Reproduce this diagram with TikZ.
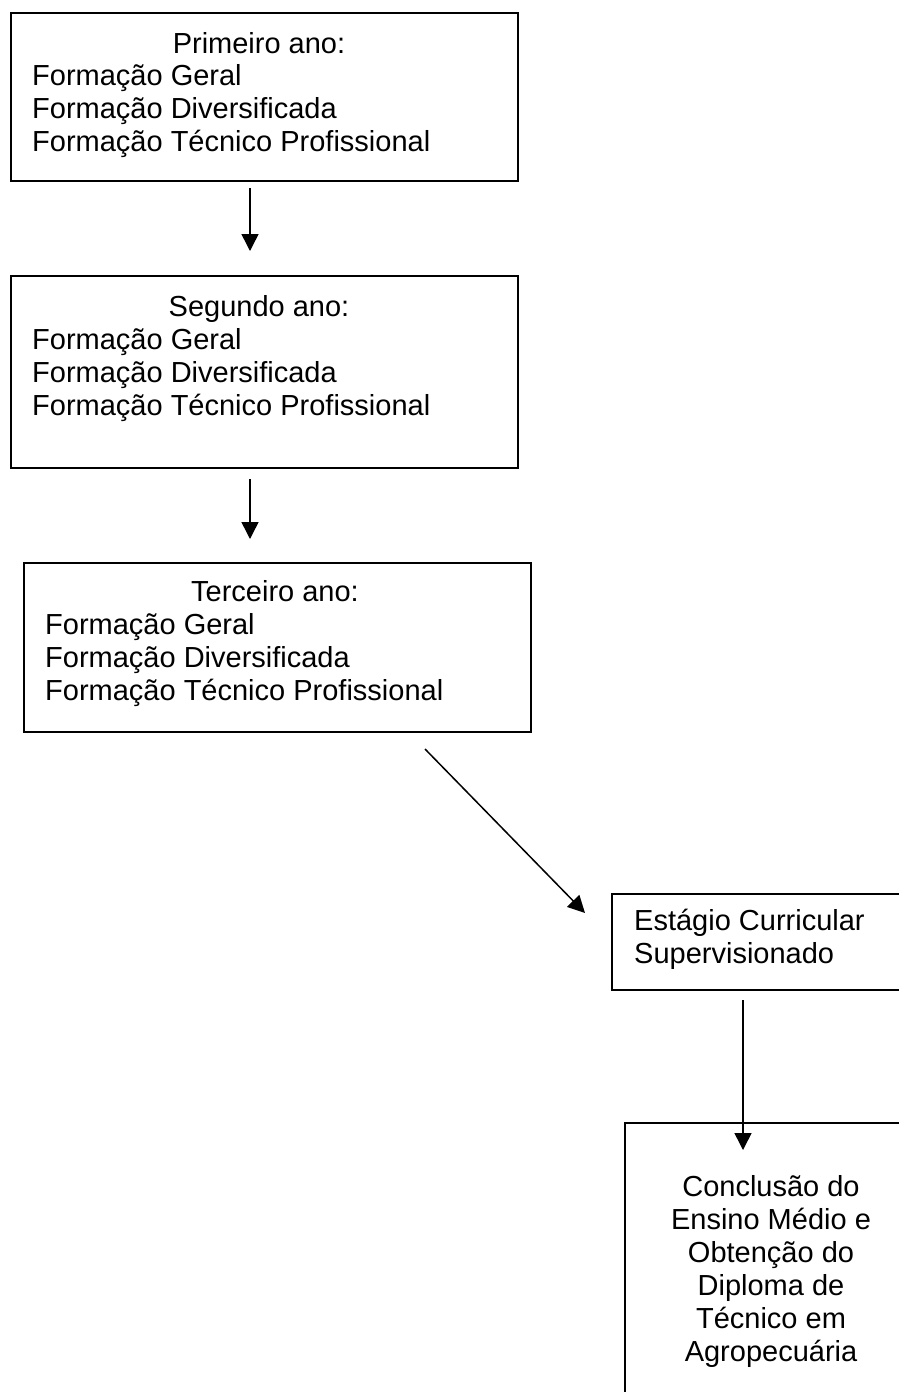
\documentclass[tikz,border=0pt]{standalone}
\usepackage{fontspec}
\setmainfont{Liberation Sans}
\usetikzlibrary{arrows.meta}
\begin{document}
\begin{tikzpicture}[x=1pt,y=-1pt,
  box/.style={draw=black, line width=1.8pt, rectangle, inner sep=0pt, anchor=north west},
  txt/.style={inner sep=0pt, font=\fontsize{29}{32.4}\selectfont},
  lt/.style={txt, anchor=base west},
  ct/.style={txt, anchor=base},
  conn/.style={line width=1.5pt, -{Triangle[length=17pt,width=17pt]}}]
\useasboundingbox (0,0) rectangle (899,1392);
\clip (0,0) rectangle (899,1392);
\fill[white] (0,0) rectangle (899,1392);
% boxes
\node[box, minimum width=507pt, minimum height=168pt] (b1) at (10,12) {};
\node[box, minimum width=507pt, minimum height=192pt] (b2) at (10,275) {};
\node[box, minimum width=507pt, minimum height=169pt] (b3) at (23,562) {};
\node[box, minimum width=309pt, minimum height=96pt] (b4) at (611,893) {};
\node[box, minimum width=294pt, minimum height=300pt] (b5) at (624,1122) {};
% texts box 1
\node[ct] (t1a) at (259,53) {Primeiro ano:};
\node[lt] (t1b) at (32,85.4) {Formação Geral};
\node[lt] (t1c) at (32,118) {Formação Diversificada};
\node[lt] (t1d) at (32,151) {Formação Técnico Profissional};
% texts box 2
\node[ct] (t2a) at (259,316) {Segundo ano:};
\node[lt] (t2b) at (32,349) {Formação Geral};
\node[lt] (t2c) at (32,382) {Formação Diversificada};
\node[lt] (t2d) at (32,415) {Formação Técnico Profissional};
% texts box 3
\node[ct] (t3a) at (275,601) {Terceiro ano:};
\node[lt] (t3b) at (45,634) {Formação Geral};
\node[lt] (t3c) at (45,667) {Formação Diversificada};
\node[lt] (t3d) at (45,700) {Formação Técnico Profissional};
% texts box 4
\node[lt] (t4a) at (634,930) {Estágio Curricular};
\node[lt] (t4b) at (634,963) {Supervisionado};
% texts box 5
\node[ct] (t5a) at (771,1196) {Conclusão do};
\node[ct] (t5b) at (771,1229) {Ensino Médio e};
\node[ct] (t5c) at (771,1262) {Obtenção do};
\node[ct] (t5d) at (771,1295) {Diploma de};
\node[ct] (t5e) at (771,1328) {Técnico em};
\node[ct] (t5f) at (771,1361) {Agropecuária};
% connector ends
\coordinate (a1s) at (250,188);
\coordinate (a1e) at (250,251);
\coordinate (a2s) at (250,479);
\coordinate (a2e) at (250,539);
\coordinate (a3s) at (425,749);
\coordinate (a3e) at (585,913);
\coordinate (a4s) at (743,1000);
\coordinate (a4e) at (743,1150);
\draw[conn] (a1s) -- (a1e);
\draw[conn] (a2s) -- (a2e);
\draw[conn] (a3s) -- (a3e);
\draw[conn] (a4s) -- (a4e);
\end{tikzpicture}
\end{document}
